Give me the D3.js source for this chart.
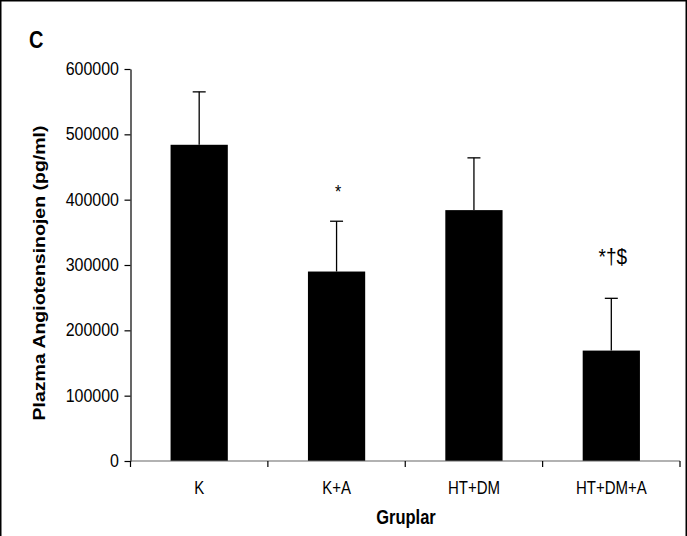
<!DOCTYPE html>
<html><head><meta charset="utf-8">
<script src="https://cdn.jsdelivr.net/npm/d3@7"></script>
<style>html,body{margin:0;padding:0;background:#fff;} svg{display:block;}</style>
</head><body>
<script>
const categories = ["K", "K+A", "HT+DM", "HT+DM+A"];
const means = [484000, 290000, 384000, 169000];
const errors = [81000, 77000, 80000, 80000];
const annotations = ["", "*", "", "*†$"];
const yTicks = [0, 100000, 200000, 300000, 400000, 500000, 600000];

const W = 687, H = 536;
const font = "'Liberation Sans', Arial, sans-serif";
const stretch = 1.18;
const svg = d3.select("body").append("svg").attr("width", W).attr("height", H);

svg.append("rect").attr("x", 0.75).attr("y", 0.75).attr("width", 685.5).attr("height", 600)
  .attr("fill", "none").attr("stroke", "#000").attr("stroke-width", 1.5);

const x = d3.scaleBand().domain(categories).range([130.5, 680])
  .paddingInner(1.4 / 2.4).paddingOuter(0.7 / 2.4);
const xb = d3.scaleBand().domain(categories).range([130.5, 680]).padding(0);
const y = d3.scaleLinear().domain([0, 600000]).range([461, 69]);

function stext(g, tx, ty, str, opts) {
  return g.append("g").attr("transform", `translate(${tx},${ty}) scale(1,${stretch})`)
    .append("text").attr("x", 0).attr("y", 0)
    .attr("font-family", font).attr("font-size", opts.size || 15)
    .attr("font-weight", opts.weight || "normal")
    .attr("text-anchor", opts.anchor || "middle").attr("fill", "#000").text(str);
}

// bars
svg.selectAll("rect.bar").data(categories).enter().append("rect").attr("class", "bar")
  .attr("x", d => x(d)).attr("width", x.bandwidth())
  .attr("y", (d, i) => y(means[i])).attr("height", (d, i) => y(0) - y(means[i]))
  .attr("fill", "#000");

// error bars
const eg = svg.append("g").attr("stroke", "#000").attr("stroke-width", 1.3);
categories.forEach((c, i) => {
  const cx = x(c) + x.bandwidth() / 2;
  eg.append("line").attr("x1", cx).attr("x2", cx).attr("y1", y(means[i])).attr("y2", y(means[i] + errors[i]));
  eg.append("line").attr("x1", cx - 6.5).attr("x2", cx + 6.5).attr("y1", y(means[i] + errors[i])).attr("y2", y(means[i] + errors[i]));
});

// y axis
const ya = svg.append("g").attr("transform", "translate(130.5,0)")
  .call(d3.axisLeft(y).tickValues(yTicks).tickFormat(d3.format("d")).tickSize(6).tickSizeOuter(0));
ya.select(".domain").attr("stroke", "#000").attr("stroke-width", 1.2);
ya.selectAll(".tick line").attr("stroke", "#000").attr("stroke-width", 1.2);
ya.selectAll(".tick text").remove();
yTicks.forEach(v => stext(svg, 119, y(v) + 6, d3.format("d")(v), {anchor: "end", size: 16}));

// x axis
const xa = svg.append("g").attr("transform", "translate(0,461)");
xa.append("line").attr("x1", 130.5).attr("x2", 680).attr("y1", 0).attr("y2", 0)
  .attr("stroke", "#666").attr("stroke-width", 1.2);
const bounds = categories.map(c => xb(c)).concat([xb.range()[1]]);
xa.selectAll("line.tk").data(bounds).enter().append("line").attr("class", "tk")
  .attr("x1", d => d).attr("x2", d => d).attr("y1", 0).attr("y2", 6)
  .attr("stroke", "#000").attr("stroke-width", 1.2);
categories.forEach(c => stext(svg, x(c) + x.bandwidth() / 2, 494, c, {}));

// annotations
const annOffset = [0, 23, 0, 34];
const annSize = [16, 16, 16, 19];
categories.forEach((c, i) => {
  if (annotations[i]) stext(svg, x(c) + x.bandwidth() / 2 + 1.5, y(means[i] + errors[i]) - annOffset[i], annotations[i], {size: annSize[i]});
});

// titles
stext(svg, 406, 524, "Gruplar", {weight: "bold", size: 16.5});
stext(svg, 29, 48, "C", {weight: "bold", size: 20, anchor: "start"});
svg.append("g").attr("transform", `translate(45,273) rotate(-90) scale(1.22,1)`)
  .append("text").attr("text-anchor", "middle").attr("font-family", font)
  .attr("font-size", 16).attr("font-weight", "bold").text("Plazma Angiotensinojen (pg/ml)");
</script>
</body></html>
